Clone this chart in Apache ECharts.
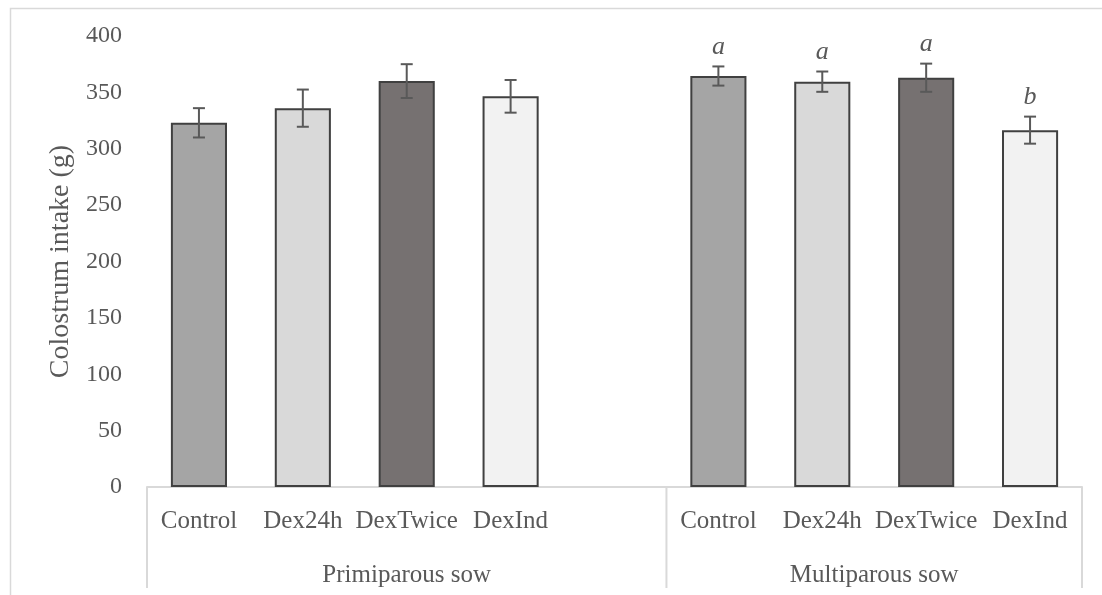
<!DOCTYPE html>
<html>
<head>
<meta charset="utf-8">
<script src="https://cdn.jsdelivr.net/npm/echarts@6/dist/echarts.min.js"></script>
<style>
  html, body { margin: 0; padding: 0; background: #ffffff; }
  #chart { width: 1102px; height: 595px; }
</style>
</head>
<body>
<div id="chart"></div>
<script>
// Treatments and parity groups
const treatments = ['Control', 'Dex24h', 'DexTwice', 'DexInd'];
const groups = ['Primiparous sow', 'Multiparous sow'];

// Colostrum intake (g): means and standard errors
const primiparousMean = [323, 336, 360, 346.5];
const primiparousSE = [13, 16.5, 15, 14.5];
const multiparousMean = [364.5, 359.5, 363, 316.5];
const multiparousSE = [8.5, 9, 12.5, 12];

// Significance letters (multiparous only)
const primiparousLetters = ['', '', '', ''];
const multiparousLetters = ['a', 'a', 'a', 'b'];

// Value axis
const yMin = 0;
const yMax = 400;
const yStep = 50;

const treatmentColors = ['#a5a5a5', '#d9d9d9', '#767171', '#f2f2f2'];
const textColor = '#595959';
const fontFamily = '"Liberation Serif", "DejaVu Serif", serif';

// Slots on the category axis: group 1, one empty spacer slot, group 2
const slots = [];
const groupSpans = [];
function addGroup(name, means, ses, letters) {
  const start = slots.length;
  treatments.forEach((t, i) => {
    slots.push({ label: t, mean: means[i], se: ses[i], letter: letters[i], color: treatmentColors[i] });
  });
  return start;
}
const s1 = addGroup(groups[0], primiparousMean, primiparousSE, primiparousLetters);
slots.push({ label: '', mean: null });
groupSpans.push({ start: s1, end: slots.length - 1, name: groups[0] });
const s2 = addGroup(groups[1], multiparousMean, multiparousSE, multiparousLetters);
groupSpans.push({ start: s2, end: slots.length - 1, name: groups[1] });

const categories = slots.map(s => s.label);

const barData = slots.map(s => s.mean == null ? '-' : {
  value: s.mean,
  itemStyle: { color: s.color }
});

const errorData = [];
slots.forEach((s, i) => { if (s.mean != null) errorData.push([i, s.mean, s.se]); });
const errorSlots = slots.map((s, i) => i).filter(i => slots[i].mean != null);

const chart = echarts.init(document.getElementById('chart'), null, { renderer: 'canvas' });

chart.setOption({
  animation: false,
  backgroundColor: '#ffffff',
  graphic: [{
    type: 'rect',
    left: 8, top: 6,
    shape: { width: 1300, height: 800 },
    style: { fill: 'none', stroke: '#d9d9d9', lineWidth: 1.5 },
    silent: true
  }],
  grid: { left: 147, right: 20, top: 36, bottom: 108 },
  xAxis: {
    type: 'category',
    data: categories,
    boundaryGap: true,
    axisLine: { show: true, lineStyle: { color: '#d9d9d9', width: 2 } },
    axisTick: { show: false },
    axisLabel: {
      interval: 0,
      margin: 22,
      color: textColor,
      fontFamily: fontFamily,
      fontSize: 25
    },
    splitLine: { show: false }
  },
  yAxis: {
    type: 'value',
    min: yMin,
    max: yMax,
    interval: yStep,
    name: 'Colostrum intake (g)',
    nameLocation: 'middle',
    nameGap: 70,
    nameTextStyle: { color: textColor, fontFamily: fontFamily, fontSize: 28 },
    axisLine: { show: false },
    axisTick: { show: false },
    splitLine: { show: false },
    axisLabel: { color: textColor, fontFamily: fontFamily, fontSize: 24, margin: 25 }
  },
  series: [
    {
      type: 'bar',
      data: barData,
      barWidth: '54%',
      itemStyle: { borderColor: '#404040', borderWidth: 2 },
      z: 2
    },
    {
      // error bars with significance letters
      type: 'custom',
      data: errorData,
      encode: { x: 0, y: 1 },
      z: 3,
      renderItem: function (params, api) {
        const idx = api.value(0);
        const mean = api.value(1);
        const se = api.value(2);
        const top = api.coord([idx, mean + se]);
        const bot = api.coord([idx, mean - se]);
        const cap = 6;
        const style = { stroke: '#595959', lineWidth: 2 };
        const children = [
          { type: 'line', shape: { x1: top[0], y1: top[1], x2: bot[0], y2: bot[1] }, style: style },
          { type: 'line', shape: { x1: top[0] - cap, y1: top[1], x2: top[0] + cap, y2: top[1] }, style: style },
          { type: 'line', shape: { x1: bot[0] - cap, y1: bot[1], x2: bot[0] + cap, y2: bot[1] }, style: style }
        ];
        const letter = slots[errorSlots[params.dataIndex]].letter;
        if (letter) {
          children.push({
            type: 'text',
            style: {
              text: letter,
              x: top[0],
              y: top[1] - 6,
              align: 'center',
              verticalAlign: 'bottom',
              fill: textColor,
              font: 'italic 26px ' + fontFamily
            }
          });
        }
        return { type: 'group', children: children };
      }
    },
    {
      // group brackets below the category labels
      type: 'custom',
      data: groupSpans.map(g => [g.start, g.end]),
      encode: { x: 0 },
      clip: false,
      silent: true,
      z: 1,
      renderItem: function (params, api) {
        const g = groupSpans[params.dataIndex];
        const band = api.size([1, 0])[0];
        const a = api.coord([g.start, 0]);
        const b = api.coord([g.end, 0]);
        const left = a[0] - band / 2;
        const right = b[0] + band / 2;
        const y0 = a[1];
        const depth = 101;
        const style = { stroke: '#d9d9d9', lineWidth: 2 };
        const children = [
          { type: 'line', shape: { x1: left, y1: y0, x2: left, y2: y0 + depth }, style: style },
          {
            type: 'text',
            style: {
              text: g.name,
              x: (left + right) / 2,
              y: y0 + 88,
              align: 'center',
              verticalAlign: 'middle',
              fill: textColor,
              font: '25px ' + fontFamily
            }
          }
        ];
        if (params.dataIndex === groupSpans.length - 1) {
          children.push({ type: 'line', shape: { x1: right, y1: y0, x2: right, y2: y0 + depth }, style: style });
        }
        return { type: 'group', children: children };
      }
    }
  ]
});
</script>
</body>
</html>
